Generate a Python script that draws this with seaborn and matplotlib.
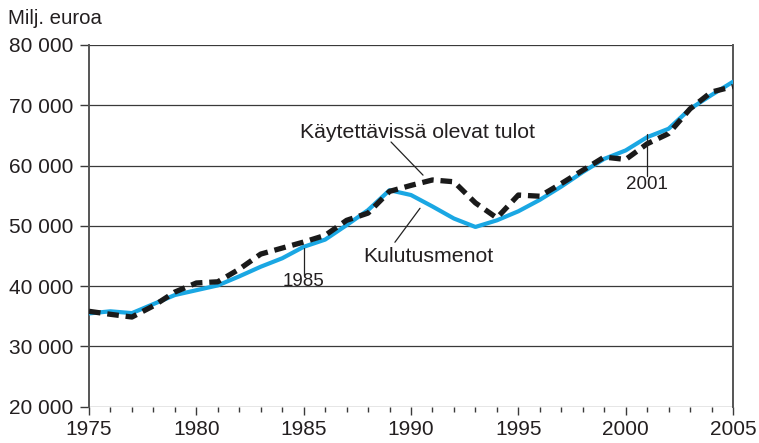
import matplotlib
matplotlib.use("Agg")
import matplotlib.pyplot as plt
import seaborn as sns
import pandas as pd
from matplotlib.ticker import MultipleLocator, FixedLocator

years = list(range(1975, 2006))
kulutusmenot = [35450, 35800, 35500, 37000, 38500, 39300, 40100, 41600, 43200, 44600,
                46500, 47700, 50100, 52600, 55900, 55100, 53200, 51200, 49800, 50900,
                52400, 54300, 56500, 58900, 61100, 62500, 64700, 66100, 69400, 71700, 73900]
tulot = [35800, 35300, 34850, 36700, 39000, 40500, 40700, 42800, 45300, 46300,
         47300, 48400, 50900, 52100, 55700, 56700, 57600, 57300, 53800, 51300,
         55100, 54900, 57000, 59200, 61400, 61000, 63600, 65300, 69400, 72200, 73100]
yticks = [20000, 30000, 40000, 50000, 60000, 70000, 80000]
xticks = [1975, 1980, 1985, 1990, 1995, 2000, 2005]

sns.set_style("white")
plt.rcParams['font.family'] = ['Liberation Sans', 'DejaVu Sans']
txt = "#231f20"

fig = plt.figure(figsize=(7.59, 4.43), dpi=100)
ax = fig.add_axes([89/759, 1-406.5/443, (733-89)/759, (406.5-45)/443])

df = pd.DataFrame({"year": years, "kulutus": kulutusmenot, "tulot": tulot})

for y in yticks:
    ax.axhline(y, color="#3a3a3a", lw=0.9, zorder=1)

sns.lineplot(data=df, x="year", y="kulutus", ax=ax, color="#1aa7e3", lw=3.0, zorder=3)
sns.lineplot(data=df, x="year", y="tulot", ax=ax, color="#1a1a1a", lw=3.8, zorder=4,
             dashes=False)
ax.lines[-1].set_dashes((2.2, 1.3))

ax.set_xlim(1975, 2005)
ax.set_ylim(20000, 80000)
ax.set_xlabel("")
ax.set_ylabel("")
ax.yaxis.set_major_locator(FixedLocator(yticks))
ax.set_yticklabels([f"{v:,}".replace(",", " ") for v in yticks])
ax.xaxis.set_major_locator(FixedLocator(xticks))
ax.xaxis.set_minor_locator(MultipleLocator(1))
ax.tick_params(axis="y", which="major", direction="out", length=6.5, width=1.0,
               color="#3a3a3a", labelsize=15, labelcolor=txt, pad=4.5, left=True)
ax.tick_params(axis="x", which="major", direction="out", length=6, width=1.0,
               color="#3a3a3a", labelsize=15, labelcolor=txt, pad=3.5, bottom=True)
ax.tick_params(axis="x", which="minor", direction="out", length=3.5, width=1.0,
               color="#3a3a3a", bottom=True)

for s in ["left", "right"]:
    ax.spines[s].set_visible(True)
    ax.spines[s].set_color("#555555")
    ax.spines[s].set_linewidth(1.4)
for s in ["top", "bottom"]:
    ax.spines[s].set_visible(False)

fig.text(8/759, 1-18/443, "Milj. euroa", fontsize=14.7, color=txt, va="center", ha="left")

# annotations
ax.text(1990.3, 65450, "Käytettävissä olevat tulot", fontsize=15.3, color=txt,
        ha="center", va="center")
ax.plot([1989.07, 1990.56], [63900, 58400], color="#222222", lw=0.9, zorder=5)

ax.text(1990.8, 44900, "Kulutusmenot", fontsize=15.3, color=txt, ha="center", va="center")
ax.plot([1989.25, 1990.42], [47260, 52900], color="#222222", lw=0.9, zorder=5)

ax.text(1985.0, 40800, "1985", fontsize=13.5, color=txt, ha="center", va="center")
ax.plot([1985.0, 1985.0], [46300, 41900], color="#222222", lw=0.9, zorder=5)

ax.text(2001.0, 56900, "2001", fontsize=13.5, color=txt, ha="center", va="center")
ax.plot([2001.0, 2001.0], [65200, 58300], color="#222222", lw=0.9, zorder=5)

fig.savefig("out.png", dpi=100)
